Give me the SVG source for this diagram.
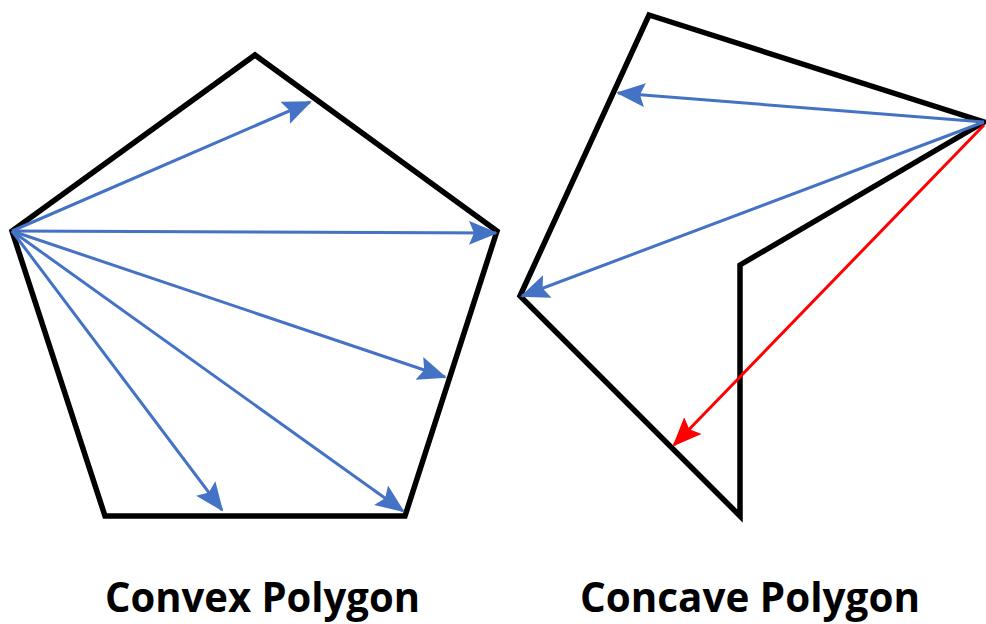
<svg xmlns="http://www.w3.org/2000/svg" width="986" height="624" viewBox="0 0 986 624">
<style>
.poly{fill:none;stroke:#000;stroke-width:5.5;stroke-linejoin:miter}
.blue{stroke:#4472C4;stroke-width:3;fill:none;marker-end:url(#ab)}
.red{stroke:#FF0000;stroke-width:3;fill:none;marker-end:url(#ar)}
.lbl{font-family:"Open Sans","Liberation Sans",sans-serif;font-weight:bold;font-size:41px;fill:#000}
</style>
<defs>
<marker id="ab" markerUnits="userSpaceOnUse" markerWidth="32" markerHeight="26" refX="27" refY="12" orient="auto"><path d="M0,0 L29,12 L0,24 L5,12 z" fill="#4472C4"/></marker>
<marker id="ar" markerUnits="userSpaceOnUse" markerWidth="32" markerHeight="26" refX="27" refY="12" orient="auto"><path d="M0,0 L29,12 L0,24 L5,12 z" fill="#FF0000"/></marker>
</defs>
<g id="convex">
<polygon class="poly" points="255,55 497,231 405,516 105,516 12,231"/>
</g>
<g id="concave">
<polygon class="poly" points="649,15 984,122 740,265 740,516 520,296"/>
</g>
<g id="connectors">
<line class="blue" x1="12" y1="231" x2="310" y2="102"/>
<line class="blue" x1="12" y1="231" x2="496" y2="233"/>
<line class="blue" x1="12" y1="231" x2="445" y2="377"/>
<line class="blue" x1="12" y1="231" x2="403" y2="511"/>
<line class="blue" x1="12" y1="231" x2="222" y2="510"/>
<line class="blue" x1="984" y1="122" x2="618" y2="93"/>
<line class="blue" x1="984" y1="122" x2="522" y2="296"/>
<line class="red" x1="984" y1="125" x2="674" y2="445"/>
</g>
<g id="labels">
<text class="lbl" x="105" y="612" textLength="315" lengthAdjust="spacingAndGlyphs">Convex Polygon</text>
<text class="lbl" x="580" y="612" textLength="340" lengthAdjust="spacingAndGlyphs">Concave Polygon</text>
</g>
</svg>
